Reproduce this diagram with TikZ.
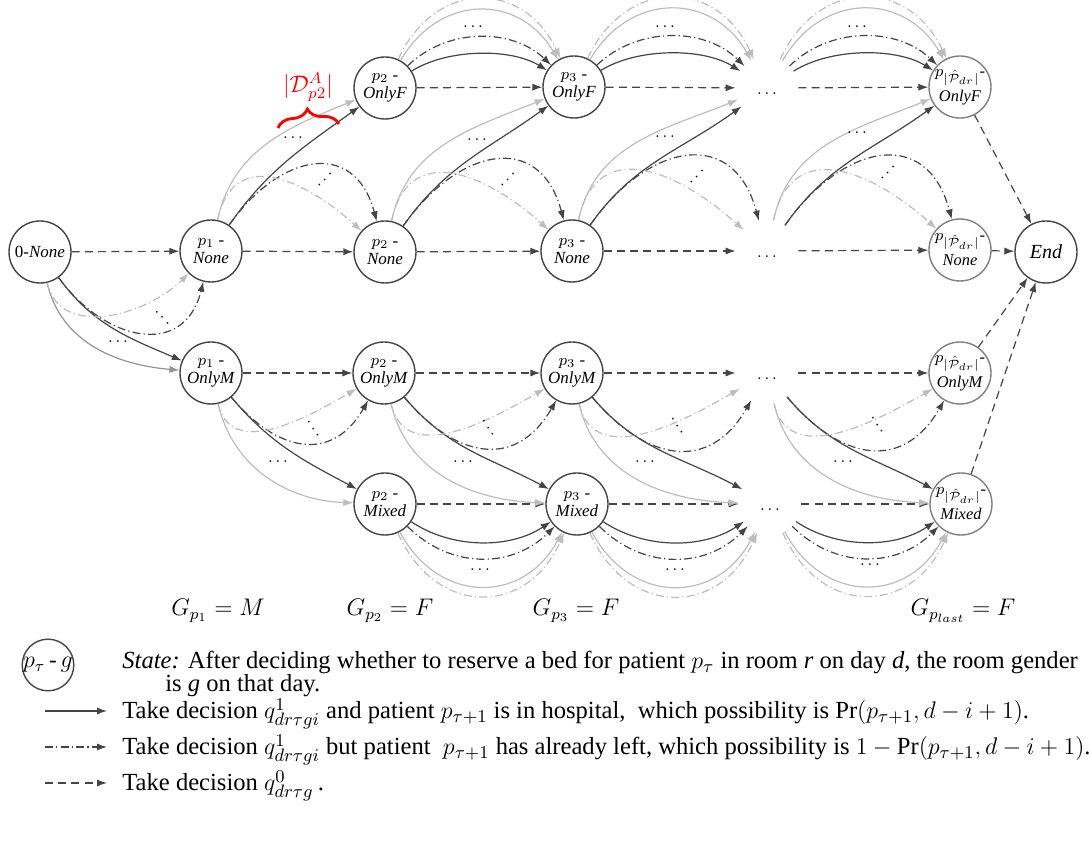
\documentclass[tikz,border=0pt]{standalone}
\usepackage{fontspec}
\setmainfont{Liberation Serif}
\usetikzlibrary{arrows.meta,decorations.pathreplacing}

\definecolor{dk}{gray}{0.27}
\definecolor{lt}{gray}{0.74}
\definecolor{md}{gray}{0.58}

\tikzset{
  state/.style={circle, draw=dk, line width=0.7pt, minimum size=31pt, inner sep=0pt,
    align=center, font=\fontsize{8.5}{9}\selectfont},
  laststate/.style={state, draw=gray, font=\fontsize{8.2}{12.5}\selectfont},
  gap/.style={circle, minimum size=31pt, inner sep=0pt, text height=7pt, text depth=0pt,
    font=\fontsize{8.5}{9}\selectfont},
  etc/.style={inner sep=0pt, font=\fontsize{8.5}{9}\selectfont},
  arr/.style={-{Latex[length=5pt,width=3.6pt]}, line width=0.6pt},
  stay/.style={arr, draw=dk, dash pattern=on 4pt off 2.6pt},
  go/.style={arr, draw=dk},
  goalt/.style={arr, draw=lt},
  miss/.style={arr, draw=dk, dash pattern=on 4pt off 1.6pt on 0.6pt off 1.6pt},
  missalt/.style={miss, draw=lt},
  % arcs between two OnlyF states (above) and two Mixed states (below)
  arcF1/.style={bend left=32, looseness=0.8},
  arcF2/.style={bend left=44, looseness=0.97},
  arcF3/.style={bend left=60, looseness=1.25},
  arcF4/.style={bend left=65, looseness=1.38},
  arcX1/.style={bend right=34, looseness=0.9},
  arcX2/.style={bend right=45, looseness=1.05},
  arcX3/.style={bend right=62, looseness=1.3},
  arcX4/.style={bend right=66, looseness=1.42},
  % None -> OnlyF / None, and OnlyM -> Mixed / OnlyM
  upgo/.style={out=55, in=216},
  upgoalt/.style={out=78, in=202},
  upmiss/.style={out=55, in=105, looseness=1.5},
  upmissalt/.style={out=78, in=138, looseness=1.35},
  dngo/.style={out=-50, in=152},
  dngoalt/.style={out=-77, in=178},
  dnmiss/.style={out=-50, in=-120, looseness=1.35},
  dnmissalt/.style={out=-77, in=-150, looseness=1.06},
  legend/.style={anchor=base west, inner sep=0pt, font=\fontsize{12.3}{13}\selectfont}
}

\begin{document}
\begin{tikzpicture}
    [x=0.5pt, y=0.5pt, every node/.style={scale=1}]
    \useasboundingbox (0,0) rectangle (1089,-849);
    \node[state] (n0) at (40,-252) {0-\textit{None}};
    \node[state] (p1n) at (211,-251) {$p_1$ -\\\textit{None}};
    \node[state] (p1m) at (211,-373) {$p_1$ -\\\textit{OnlyM}};
    \node[state] (p2f) at (385,-88) {$p_2$ -\\\textit{OnlyF}};
    \node[state] (p2n) at (385,-252) {$p_2$ -\\\textit{None}};
    \node[state] (p2m) at (384,-373) {$p_2$ -\\\textit{OnlyM}};
    \node[state] (p2x) at (385,-504) {$p_2$ -\\\textit{Mixed}};
    \node[state] (p3f) at (574,-87) {$p_3$ -\\\textit{OnlyF}};
    \node[state] (p3n) at (572,-251) {$p_3$ -\\\textit{None}};
    \node[state] (p3m) at (572,-373) {$p_3$ -\\\textit{OnlyM}};
    \node[state] (p3x) at (577,-504) {$p_3$ -\\\textit{Mixed}};
    \node[gap] (df) at (767,-88) {$\ldots$};
    \node[gap] (dn) at (767,-251) {$\ldots$};
    \node[gap] (dm) at (767,-373) {$\ldots$};
    \node[gap] (dx) at (770,-504) {$\ldots$};
    \node[laststate] (lf) at (960,-87) {$p_{|\hat{\mathcal{P}}_{dr}|}$-\\\textit{OnlyF}};
    \node[laststate] (ln) at (960,-250) {$p_{|\hat{\mathcal{P}}_{dr}|}$-\\\textit{None}};
    \node[laststate] (lm) at (960,-373) {$p_{|\hat{\mathcal{P}}_{dr}|}$-\\\textit{OnlyM}};
    \node[laststate] (lx) at (961,-504) {$p_{|\hat{\mathcal{P}}_{dr}|}$-\\\textit{Mixed}};
    \node[state, font=\fontsize{10}{11}\selectfont] (e) at (1046,-252) {\textit{End}};

    % q^0: keep the room gender
    \draw[stay] (n0) to (p1n);
    \draw[stay] (p1n) to (p2n);
    \draw[stay] (p2n) to (p3n);
    \draw[stay] (p3n) to (dn);
    \draw[stay] (dn) to (ln);
    \draw[stay] (ln) to (e);
    \draw[stay] (p2f) to (p3f);
    \draw[stay] (p3f) to (df);
    \draw[stay] (df) to (lf);
    \draw[stay] (p1m) to (p2m);
    \draw[stay] (p2m) to (p3m);
    \draw[stay] (p3m) to (dm);
    \draw[stay] (dm) to (lm);
    \draw[stay] (p2x) to (p3x);
    \draw[stay] (p3x) to (dx);
    \draw[stay] (dx) to (lx);
    \draw[stay] (lf) to (e);
    \draw[stay] (lm) to (e);
    \draw[stay] (lx) to (e);

    % OnlyF -> OnlyF
    \draw[go] (p2f) to[arcF1] (p3f);
    \draw[miss] (p2f) to[arcF2] (p3f);
    \draw[goalt] (p2f) to[arcF3] (p3f);
    \draw[missalt] (p2f) to[arcF4] (p3f);
    \draw[go] (p3f) to[arcF1] (df);
    \draw[miss] (p3f) to[arcF2] (df);
    \draw[goalt] (p3f) to[arcF3] (df);
    \draw[missalt] (p3f) to[arcF4] (df);
    \draw[go] (df) to[arcF1] (lf);
    \draw[miss] (df) to[arcF2] (lf);
    \draw[goalt] (df) to[arcF3] (lf);
    \draw[missalt] (df) to[arcF4] (lf);
    \node[etc] (f1) at (473,-27) {$\ldots$};
    \node[etc] (f2) at (665,-27) {$\ldots$};
    \node[etc] (f3) at (857,-27) {$\ldots$};

    % Mixed -> Mixed
    \draw[go] (p2x) to[arcX1] (p3x);
    \draw[miss] (p2x) to[arcX2] (p3x);
    \draw[goalt] (p2x) to[arcX3] (p3x);
    \draw[missalt] (p2x) to[arcX4] (p3x);
    \draw[go] (p3x) to[arcX1] (dx);
    \draw[miss] (p3x) to[arcX2] (dx);
    \draw[goalt] (p3x) to[arcX3] (dx);
    \draw[missalt] (p3x) to[arcX4] (dx);
    \draw[go] (dx) to[arcX1] (lx);
    \draw[miss] (dx) to[arcX2] (lx);
    \draw[goalt] (dx) to[arcX3] (lx);
    \draw[missalt] (dx) to[arcX4] (lx);
    \node[etc] (x1) at (480,-570) {$\ldots$};
    \node[etc] (x2) at (675,-570) {$\ldots$};
    \node[etc] (x3) at (870,-565) {$\ldots$};

    % None -> OnlyF, or None again when the patient has left
    \draw[go] (p1n) to[upgo] (p2f);
    \draw[goalt] (p1n) to[upgoalt] (p2f);
    \draw[miss] (p1n) to[upmiss] (p2n);
    \draw[missalt] (p1n) to[upmissalt] (p2n);
    \draw[go] (p2n) to[upgo] (p3f);
    \draw[goalt] (p2n) to[upgoalt] (p3f);
    \draw[miss] (p2n) to[upmiss] (p3n);
    \draw[missalt] (p2n) to[upmissalt] (p3n);
    \draw[go] (p3n) to[upgo] (df);
    \draw[goalt] (p3n) to[upgoalt] (df);
    \draw[miss] (p3n) to[upmiss] (dn);
    \draw[missalt] (p3n) to[upmissalt] (dn);
    \draw[go] (dn) to[upgo] (lf);
    \draw[goalt] (dn) to[upgoalt] (lf);
    \draw[miss] (dn) to[upmiss] (ln);
    \draw[missalt] (dn) to[upmissalt] (ln);
    \node[etc] (u1) at (293,-138) {$\ldots$};
    \node[etc] (u2) at (477,-140) {$\ldots$};
    \node[etc] (u3) at (665,-137) {$\ldots$};
    \node[etc] (u4) at (857,-133) {$\ldots$};
    \node[etc, rotate=45] (v1) at (325,-180) {$\cdots$};
    \node[etc, rotate=45] (v2) at (508,-180) {$\cdots$};
    \node[etc, rotate=45] (v3) at (697,-177) {$\cdots$};
    \node[etc, rotate=45] (v4) at (888,-173) {$\cdots$};

    % 0-None -> OnlyM, or None again
    \draw[go] (n0) to[out=-54, in=157] (p1m);
    \draw[arr, draw=md] (n0) to[out=-77, in=175] (p1m);
    \draw[miss] (n0) to[out=-54, in=-104, looseness=1.4] (p1n);
    \draw[missalt] (n0) to[out=-77, in=-135, looseness=1.06] (p1n);
    \node[etc] (w0) at (118,-342) {$\ldots$};
    \node[etc, rotate=-45] (s0) at (162,-318) {$\cdots$};

    % OnlyM -> Mixed, or OnlyM again
    \draw[go] (p1m) to[dngo] (p2x);
    \draw[goalt] (p1m) to[dngoalt] (p2x);
    \draw[miss] (p1m) to[dnmiss] (p2m);
    \draw[missalt] (p1m) to[dnmissalt] (p2m);
    \draw[go] (p2m) to[dngo] (p3x);
    \draw[goalt] (p2m) to[dngoalt] (p3x);
    \draw[miss] (p2m) to[dnmiss] (p3m);
    \draw[missalt] (p2m) to[dnmissalt] (p3m);
    \draw[go] (p3m) to[dngo] (dx);
    \draw[goalt] (p3m) to[dngoalt] (dx);
    \draw[miss] (p3m) to[dnmiss] (dm);
    \draw[missalt] (p3m) to[dnmissalt] (dm);
    \draw[go] (dm) to[dngo] (lx);
    \draw[goalt] (dm) to[dngoalt] (lx);
    \draw[miss] (dm) to[dnmiss] (lm);
    \draw[missalt] (dm) to[dnmissalt] (lm);
    \node[etc] (w1) at (278,-462) {$\ldots$};
    \node[etc] (w2) at (463,-462) {$\ldots$};
    \node[etc] (w3) at (645,-462) {$\ldots$};
    \node[etc] (w4) at (843,-462) {$\ldots$};
    \node[etc, rotate=-55] (s1) at (313,-429) {$\cdots$};
    \node[etc, rotate=-55] (s2) at (488,-428) {$\cdots$};
    \node[etc, rotate=-55] (s3) at (677,-426) {$\cdots$};
    \node[etc, rotate=-55] (s4) at (877,-425) {$\cdots$};

    % number of admission days for p2
    \coordinate (b1) at (278,-128);
    \coordinate (b2) at (339,-124);
    \draw[red, line width=1.4pt, decorate, decoration={brace, amplitude=8.5pt}] (b1) -- (b2);
    \node[red, font=\fontsize{11.5}{12}\selectfont] (da) at (308,-87) {$|\mathcal{D}^A_{p2}|$};

    \node[font=\fontsize{12}{13}\selectfont] (g1) at (218,-611) {$G_{p_1} = M$};
    \node[font=\fontsize{12}{13}\selectfont] (g2) at (390,-611) {$G_{p_2} = F$};
    \node[font=\fontsize{12}{13}\selectfont] (g3) at (576,-611) {$G_{p_3} = F$};
    \node[font=\fontsize{12}{13}\selectfont] (g4) at (963,-611) {$G_{p_{last}} = F$};

    % legend
    \node[state, minimum size=22pt, font=\fontsize{11.5}{12}\selectfont] (key) at (48,-665) {$p_\tau$\,-\,$g$};
    \node[legend] (t0) at (122,-669) {\textit{State:} After deciding whether to reserve a bed for patient $p_\tau$ in room \textit{r} on day \textit{d}, the room gender};
    \node[legend] (t0b) at (165,-692) {is \textit{g} on that day.};
    \node[legend] (t1) at (122,-719) {Take decision $q^1_{dr\tau gi}$ and patient $p_{\tau+1}$ is in hospital,\ \ which possibility is $\Pr(p_{\tau+1},d-i+1)$.};
    \node[legend] (t2) at (122,-755) {Take decision $q^1_{dr\tau gi}$ but patient\ \ $p_{\tau+1}$ has already left, which possibility is $1-\Pr(p_{\tau+1},d-i+1)$.};
    \node[legend] (t3) at (122,-791) {Take decision $q^0_{dr\tau g}$\,.};
    \coordinate (k1) at (45,-711);
    \coordinate (k1e) at (107,-711);
    \coordinate (k2) at (45,-747);
    \coordinate (k2e) at (107,-747);
    \coordinate (k3) at (45,-783);
    \coordinate (k3e) at (107,-783);
    \draw[go] (k1) -- (k1e);
    \draw[miss] (k2) -- (k2e);
    \draw[stay] (k3) -- (k3e);
\end{tikzpicture}
\end{document}
